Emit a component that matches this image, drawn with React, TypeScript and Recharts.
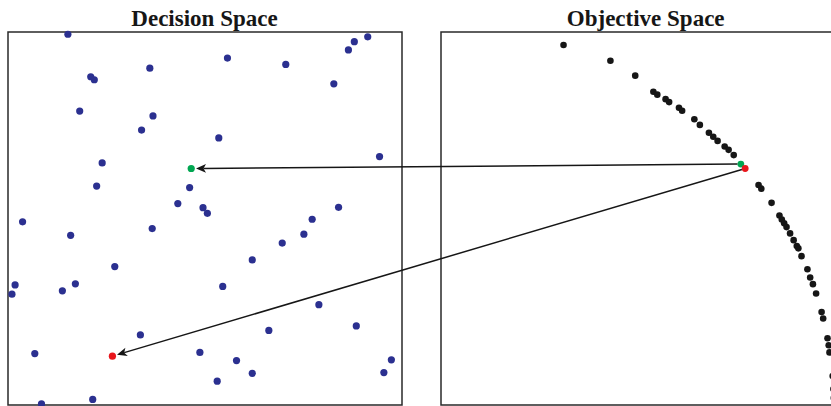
import React, { useState, useLayoutEffect, useCallback } from 'react';
import { ScatterChart, Scatter, XAxis, YAxis, ReferenceArea } from 'recharts';

// ---- Decision space (x1, x2) ----
const decisionX1 = [
  0.152, 0.557, 0.705, 0.913, 0.879, 0.864, 0.827, 0.360, 0.210, 0.219,
  0.182, 0.368, 0.339, 0.535, 0.943, 0.239, 0.225, 0.461, 0.431, 0.495,
  0.839, 0.506, 0.037, 0.159, 0.366, 0.772, 0.751, 0.696, 0.620, 0.271,
  0.018, 0.010, 0.138, 0.171, 0.545, 0.789, 0.336, 0.662, 0.884, 0.068,
  0.487, 0.580, 0.620, 0.531, 0.973, 0.954, 0.085, 0.215,
];
const decisionX2 = [
  0.994, 0.930, 0.913, 0.987, 0.974, 0.952, 0.861, 0.903, 0.880, 0.872,
  0.788, 0.775, 0.737, 0.716, 0.666, 0.649, 0.587, 0.583, 0.540, 0.529,
  0.530, 0.514, 0.491, 0.455, 0.473, 0.498, 0.458, 0.434, 0.389, 0.371,
  0.322, 0.297, 0.306, 0.325, 0.318, 0.269, 0.188, 0.200, 0.212, 0.138,
  0.141, 0.119, 0.085, 0.064, 0.121, 0.087, 0.003, 0.015,
];

// ---- Objective space (f1, f2) ----
const objectiveF1 = [
  0.311, 0.430, 0.493, 0.539, 0.549, 0.570, 0.579, 0.604, 0.612, 0.643,
  0.657, 0.680, 0.691, 0.702, 0.720, 0.730, 0.743, 0.806, 0.813, 0.839,
  0.859, 0.865, 0.871, 0.877, 0.886, 0.895, 0.903, 0.907, 0.915, 0.930,
  0.937, 0.944, 0.952, 0.966, 0.970, 0.981, 0.984, 0.986, 0.994, 0.996,
  0.997,
];
const objectiveF2 = [
  0.965, 0.923, 0.883, 0.840, 0.832, 0.820, 0.812, 0.797, 0.789, 0.766,
  0.751, 0.730, 0.719, 0.708, 0.693, 0.684, 0.670, 0.590, 0.580, 0.542,
  0.508, 0.497, 0.487, 0.477, 0.460, 0.442, 0.426, 0.420, 0.399, 0.364,
  0.342, 0.324, 0.299, 0.249, 0.232, 0.179, 0.160, 0.141, 0.078, 0.043,
  0.019,
];

// ---- Highlighted solutions (green, red) ----
const selectedIds = ['green', 'red'];
const selectedColors = ['#00a651', '#e8161c'];
const selectedDecisionX1 = [0.465, 0.265];
const selectedDecisionX2 = [0.634, 0.131];
const selectedObjectiveF1 = [0.761, 0.772];
const selectedObjectiveF2 = [0.646, 0.634];

const titles = ['Decision Space', 'Objective Space'];

const decisionData = decisionX1.map((x, i) => ({ x, y: decisionX2[i] }));
const objectiveData = objectiveF1.map((x, i) => ({ x, y: objectiveF2[i] }));
const selDecisionData = selectedIds.map((id, i) => ({
  id: 'd-' + id, x: selectedDecisionX1[i], y: selectedDecisionX2[i], color: selectedColors[i],
}));
const selObjectiveData = selectedIds.map((id, i) => ({
  id: 'o-' + id, x: selectedObjectiveF1[i], y: selectedObjectiveF2[i], color: selectedColors[i],
}));

const NAVY = '#2b3090';
const INK = '#161616';

type Pos = Record<string, { x: number; y: number }>;

const Dot = (props: any) => {
  const { cx, cy, r, color, fill, payload, onPos } = props;
  useLayoutEffect(() => {
    if (onPos && payload && cx != null && cy != null) onPos(payload.id, cx, cy);
  }, [cx, cy]);
  if (cx == null || cy == null) return null;
  return <circle cx={cx} cy={cy} r={r} fill={color || (payload && payload.color) || fill} />;
};

function Arrow({ from, to, gapStart, gapEnd }: { from: { x: number; y: number }; to: { x: number; y: number }; gapStart: number; gapEnd: number }) {
  const dx = to.x - from.x;
  const dy = to.y - from.y;
  const len = Math.hypot(dx, dy) || 1;
  const ux = dx / len;
  const uy = dy / len;
  const nx = -uy;
  const ny = ux;
  const sx = from.x + ux * gapStart;
  const sy = from.y + uy * gapStart;
  const tx = to.x - ux * gapEnd;
  const ty = to.y - uy * gapEnd;
  const L = 10;
  const W = 4.3;
  const notch = 7.5;
  const bx = tx - ux * L;
  const by = ty - uy * L;
  const mx = tx - ux * notch;
  const my = ty - uy * notch;
  const pts = [
    [tx, ty],
    [bx + nx * W, by + ny * W],
    [mx, my],
    [bx - nx * W, by - ny * W],
  ].map((p) => p.join(',')).join(' ');
  return (
    <g>
      <line x1={sx} y1={sy} x2={mx} y2={my} stroke={INK} strokeWidth={1.5} />
      <polygon points={pts} fill={INK} />
    </g>
  );
}

export default function App() {
  const [pos, setPos] = useState<Pos>({});
  const report = useCallback((id: string, x: number, y: number) => {
    setPos((prev) => {
      const p = prev[id];
      if (p && Math.abs(p.x - x) < 0.01 && Math.abs(p.y - y) < 0.01) return prev;
      return { ...prev, [id]: { x, y } };
    });
  }, []);

  const W = 840;
  const H = 406;

  return (
    <div style={{ position: 'fixed', left: 0, top: 0, width: 831, height: 406, overflow: 'hidden', background: '#fff' }}>
      <div style={{ position: 'absolute', left: 0, top: 0 }}>
        <ScatterChart width={W} height={H} margin={{ top: 32, right: 5, bottom: 1, left: 8 }}>
          <XAxis xAxisId="d" dataKey="x" type="number" domain={[0, 1]} hide padding={{ left: 0, right: 433 }} />
          <XAxis xAxisId="o" dataKey="x" type="number" domain={[0, 1]} hide padding={{ left: 433, right: 0 }} />
          <YAxis yAxisId="d" dataKey="y" type="number" domain={[0, 1]} hide />
          <YAxis yAxisId="o" dataKey="y" type="number" domain={[0, 1]} hide />
          <ReferenceArea xAxisId="d" yAxisId="d" x1={0} x2={1} y1={0} y2={1} fill="none" fillOpacity={0} stroke="#2a2a2a" strokeWidth={1.5} />
          <ReferenceArea xAxisId="o" yAxisId="o" x1={0} x2={1} y1={0} y2={1} fill="none" fillOpacity={0} stroke="#2a2a2a" strokeWidth={1.5} />
          <Scatter
            xAxisId="d" yAxisId="d" data={decisionData} fill={NAVY} isAnimationActive={false}
            shape={(p: any) => <Dot {...p} r={3.6} color={NAVY} />}
          />
          <Scatter
            xAxisId="o" yAxisId="o" data={objectiveData} fill={INK} isAnimationActive={false}
            shape={(p: any) => <Dot {...p} r={3.3} color={INK} />}
          />
          <Scatter
            xAxisId="d" yAxisId="d" data={selDecisionData} isAnimationActive={false}
            shape={(p: any) => <Dot {...p} r={3.6} onPos={report} />}
          />
          <Scatter
            xAxisId="o" yAxisId="o" data={selObjectiveData} isAnimationActive={false}
            shape={(p: any) => <Dot {...p} r={3.4} onPos={report} />}
          />
        </ScatterChart>
      </div>
      <svg width={W} height={H} style={{ position: 'absolute', left: 0, top: 0, pointerEvents: 'none' }}>
        <text x={204.5} y={26} textAnchor="middle" fontFamily="'Liberation Serif', 'Times New Roman', serif" fontWeight="bold" fontSize={23} fill={INK}>
          {titles[0]}
        </text>
        <text x={645.7} y={26} textAnchor="middle" fontFamily="'Liberation Serif', 'Times New Roman', serif" fontWeight="bold" fontSize={23} fill={INK}>
          {titles[1]}
        </text>
        {selectedIds.map((id) => {
          const a = pos['o-' + id];
          const b = pos['d-' + id];
          if (!a || !b) return null;
          return <Arrow key={id} from={a} to={b} gapStart={3.4} gapEnd={4.8} />;
        })}
      </svg>
    </div>
  );
}
